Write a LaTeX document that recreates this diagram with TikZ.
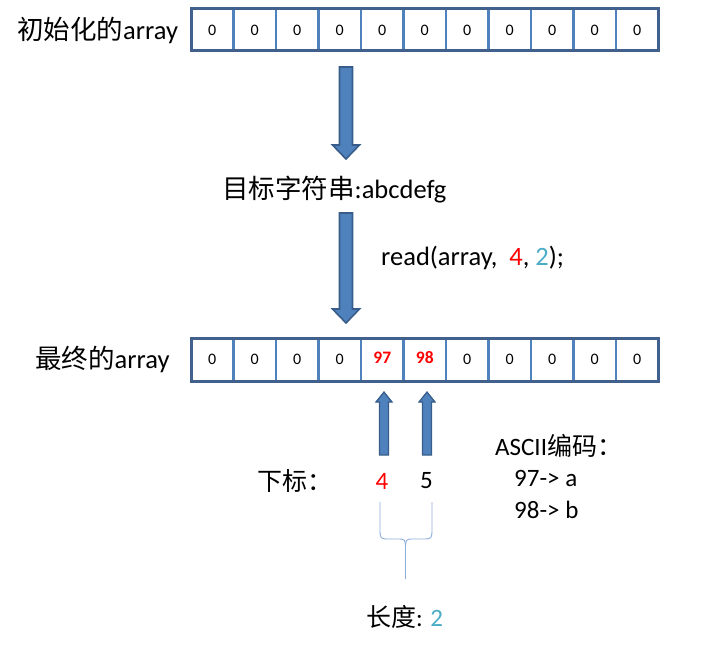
\documentclass[tikz,border=0pt]{standalone}
\usepackage{fontspec}
\setmainfont{Carlito}
\newfontfamily\cjk{Noto Sans CJK SC}
\definecolor{arrfill}{HTML}{4F81BD}
\definecolor{arrline}{HTML}{385D8A}
\definecolor{outerb}{HTML}{41618C}
\definecolor{teal}{HTML}{4BACC6}
\definecolor{bracec}{HTML}{8EAEDB}
\tikzset{
  cell/.style={minimum width=42.5pt,minimum height=42pt,inner sep=0pt,font=\fontsize{16}{16}\selectfont},
  hot/.style={cell,text=red,font=\fontsize{17.5}{17.5}\selectfont\bfseries},
  lbl/.style={inner sep=0pt,anchor=west,font=\fontsize{26.5}{26.5}\selectfont},
  sml/.style={inner sep=0pt,anchor=west,font=\fontsize{25}{25}\selectfont},
  blockarrow/.style={fill=arrfill,draw=arrline,line width=1.6pt,line join=miter},
  divider/.style={draw=arrfill,line width=2.6pt},
  frame/.style={draw=outerb,line width=3pt},
  bracepath/.style={draw=bracec,line width=0.9pt}
}
\begin{document}
\begin{tikzpicture}[x=1pt,y=-1pt]
\useasboundingbox (0,0) rectangle (709,666);
% top array
\foreach \i in {0,...,10}{
  \node[cell] (t\i) at ({191+42.5*\i+21.25},30) {0};
}
\foreach \i in {1,...,10}{
  \draw[divider] ({191+42.5*\i},9) -- ({191+42.5*\i},51);
}
\draw[frame] (191,9) rectangle (658.5,51);
\node[lbl] (toplbl) at (17,30) {{\cjk 初始化的}array};
% bottom array
\foreach \i/\v in {0/0,1/0,2/0,3/0,6/0,7/0,8/0,9/0,10/0}{
  \node[cell] (b\i) at ({191+42.5*\i+21.25},359.5) {\v};
}
\node[hot] (b4) at ({191+42.5*4+21.25},358) {97};
\node[hot] (b5) at ({191+42.5*5+21.25},358) {98};
\foreach \i in {1,...,10}{
  \draw[divider] ({191+42.5*\i},338) -- ({191+42.5*\i},381);
}
\draw[frame] (191,338) rectangle (658.5,381);
\node[lbl] (botlbl) at (35,359) {{\cjk 最终的}array};
% middle texts
\node[lbl] (target) at (222,190) {{\cjk 目标字符串}:abcdefg};
\node[lbl] (readc) at (381,258) {read(array,\ \ {\color{red}4}, {\color{teal}2});};
% big down arrows
\draw[blockarrow] (339.5,67) -- (352.5,67) -- (352.5,145) -- (359.5,145) -- (346,159) -- (332.5,145) -- (339.5,145) -- cycle;
\draw[blockarrow] (339.5,213) -- (352.5,213) -- (352.5,309) -- (359.5,309) -- (346,323) -- (332.5,309) -- (339.5,309) -- cycle;
% index labels
\node[sml] (xb) at (257,481) {\cjk 下标：};
\node[inner sep=0pt,font=\fontsize{25}{25}\selectfont,text=red] (i4) at (382,481) {4};
\node[inner sep=0pt,font=\fontsize{25}{25}\selectfont] (i5) at (426.5,481) {5};
% small up arrows
\draw[blockarrow,line width=1.2pt] (379.5,455) -- (388.5,455) -- (388.5,402) -- (392,402) -- (384,392) -- (376,402) -- (379.5,402) -- cycle;
\draw[blockarrow,line width=1.2pt] (422.5,455) -- (431.5,455) -- (431.5,402) -- (435,402) -- (427,392) -- (419,402) -- (422.5,402) -- cycle;
% ascii
\node[sml] (ascii) at (495,446) {ASCII{\cjk 编码：}};
\node[sml] (a97) at (514,478) {97-> a};
\node[sml] (a98) at (514,510) {98-> b};
% brace
\draw[bracepath] (380,502) -- (380,528) .. controls (380,539) .. (390,539) -- (397,539) .. controls (405.5,539) .. (405.5,550) -- (405.5,579);
\draw[bracepath] (432,502) -- (432,528) .. controls (432,539) .. (422,539) -- (414,539) .. controls (405.5,539) .. (405.5,550);
\node[sml] (len) at (366,617) {{\cjk 长度}: {\color{teal}2}};
\end{tikzpicture}
\end{document}
